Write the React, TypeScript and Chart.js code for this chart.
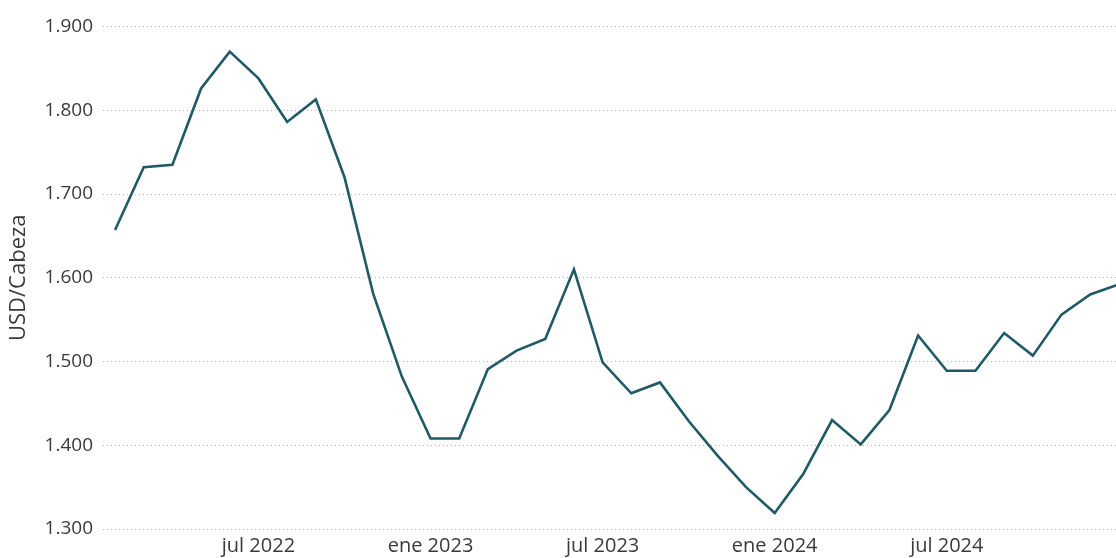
import React, { useEffect, useRef } from "react";
import { Chart, registerables } from "chart.js";

Chart.register(...registerables);

const MONTHS: string[] = [
  "feb 2022", "mar 2022", "abr 2022", "may 2022", "jun 2022", "jul 2022",
  "ago 2022", "sep 2022", "oct 2022", "nov 2022", "dic 2022", "ene 2023",
  "feb 2023", "mar 2023", "abr 2023", "may 2023", "jun 2023", "jul 2023",
  "ago 2023", "sep 2023", "oct 2023", "nov 2023", "dic 2023", "ene 2024",
  "feb 2024", "mar 2024", "abr 2024", "may 2024", "jun 2024", "jul 2024",
  "ago 2024", "sep 2024", "oct 2024", "nov 2024", "dic 2024", "ene 2025",
];

const VALUES: number[] = [
  1657, 1732, 1735, 1826, 1870, 1838,
  1786, 1813, 1720, 1581, 1482, 1408,
  1408, 1491, 1513, 1527, 1610, 1499,
  1462, 1475, 1429, 1388, 1350, 1319,
  1366, 1430, 1401, 1442, 1531, 1489,
  1489, 1534, 1507, 1556, 1580, 1592,
];

const X_TICK_LABELS: string[] = ["jul 2022", "ene 2023", "jul 2023", "ene 2024", "jul 2024"];
const Y_TICKS: number[] = [1300, 1400, 1500, 1600, 1700, 1800, 1900];
const Y_TITLE = "USD/Cabeza";

const fmt = (v: number) => {
  const s = String(Math.round(v));
  return s.replace(/\B(?=(\d{3})+(?!\d))/g, ".");
};

export default function App() {
  const ref = useRef<HTMLCanvasElement | null>(null);

  useEffect(() => {
    if (!ref.current) return;
    const tickIdx = X_TICK_LABELS.map((l) => MONTHS.indexOf(l));
    const chart = new Chart(ref.current, {
      type: "line",
      data: {
        datasets: [
          {
            data: VALUES.map((v, i) => ({ x: i, y: v })),
            borderColor: "#1f5a68",
            borderWidth: 2.6,
            pointRadius: 0,
            tension: 0,
            fill: false,
          },
        ],
      },
      options: {
        animation: false,
        responsive: false,
        layout: { padding: { top: 26.5, right: 0, left: 0, bottom: 0 } },
        plugins: { legend: { display: false }, tooltip: { enabled: false } },
        scales: {
          x: {
            type: "linear",
            min: -0.42,
            max: 34.9,
            grid: { display: false, drawTicks: false },
            border: { display: false },
            afterBuildTicks: (scale: any) => {
              scale.ticks = tickIdx.map((v) => ({ value: v }));
            },
            afterFit: (scale: any) => {
              scale.height = 29;
            },
            ticks: {
              padding: 5,
              autoSkip: false,
              maxRotation: 0,
              color: "#3a3a3a",
              font: { family: "'Open Sans'", size: 20 },
              callback: (v: any) => MONTHS[Math.round(Number(v))] ?? "",
            },
          },
          y: {
            min: 1300,
            max: 1900,
            afterBuildTicks: (scale: any) => {
              scale.ticks = Y_TICKS.map((v) => ({ value: v }));
            },
            afterFit: (scale: any) => {
              scale.width = 103;
            },
            border: { display: false, dash: [1, 3] },
            grid: {
              drawTicks: false,
              color: "#b4b4b4",
              lineWidth: 1,
            },
            ticks: {
              padding: 10,
              color: "#3a3a3a",
              font: { family: "'Open Sans'", size: 19 },
              callback: (v: any) => fmt(Number(v)),
            },
            title: {
              display: true,
              text: Y_TITLE,
              color: "#3a3a3a",
              font: { family: "'Open Sans'", size: 22 },
              padding: { top: 6, bottom: 0 },
            },
          },
        },
      },
    } as any);
    return () => chart.destroy();
  }, []);

  return (
    <div style={{ position: "absolute", left: 0, top: 0, width: 1116, height: 558, overflow: "hidden", background: "#ffffff" }}>
      <canvas ref={ref} width={1116} height={558} style={{ display: "block" }} />
    </div>
  );
}
